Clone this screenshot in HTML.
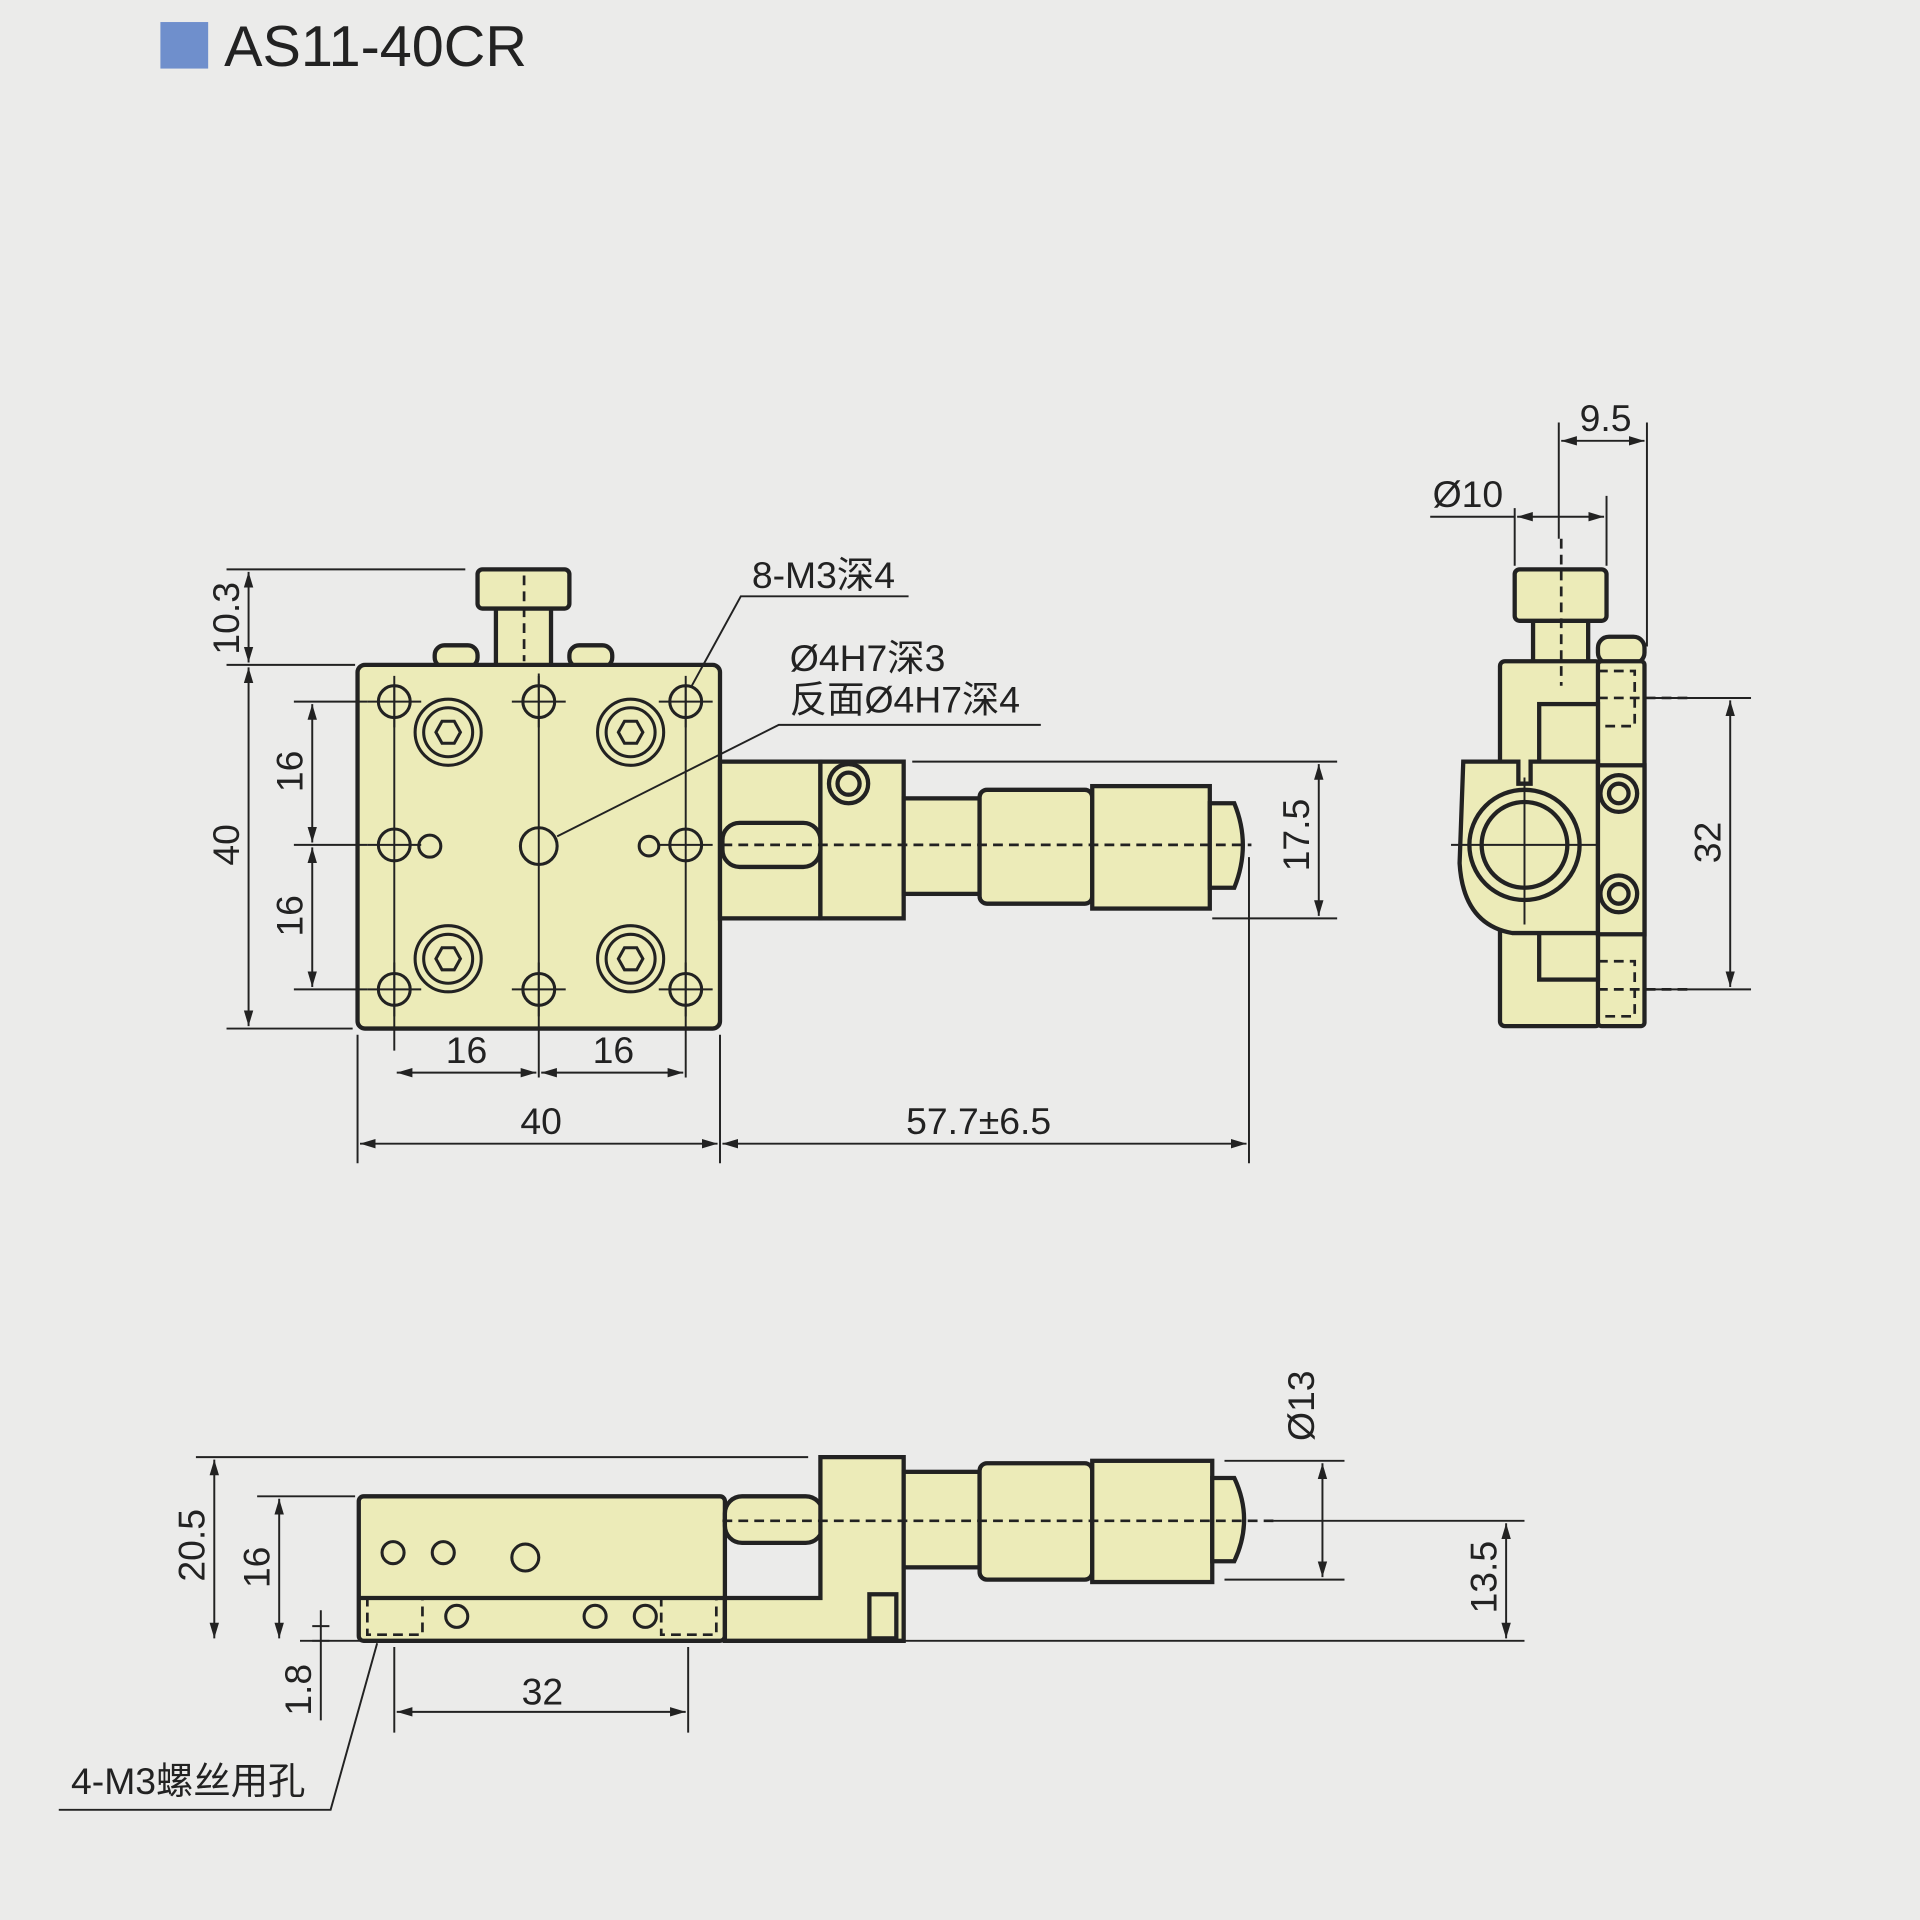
<!DOCTYPE html>
<html><head><meta charset="utf-8"><style>
html,body{margin:0;padding:0;background:#ebebea;}
svg{display:block;}
text{font-family:"Liberation Sans","Noto Sans CJK SC",sans-serif;fill:#222;}
</style></head><body>
<svg width="1920" height="1920" viewBox="0 0 1568 1568" xmlns="http://www.w3.org/2000/svg">
<rect width="1568" height="1568" fill="#ebebea"/>
<defs>
<marker id="a" viewBox="0 0 10 10" refX="10" refY="5" markerWidth="8" markerHeight="8" orient="auto-start-reverse"><path d="M0,2 L10,5 L0,8z" fill="#222"/></marker>
</defs>
<rect x="131" y="18" width="39" height="38" fill="#6f8fcc"/>
<text x="183" y="54" font-size="47">AS11-40CR</text>

<g fill="#ecebb8" stroke="#222" stroke-width="3.5">
<rect x="355" y="527" width="35" height="18" rx="8"/>
<rect x="465" y="527" width="35" height="18" rx="8"/>
<rect x="405" y="495" width="45" height="50"/>
<rect x="390" y="465" width="75" height="32" rx="4"/>
<rect x="292" y="543" width="296" height="297" rx="6"/>
<rect x="588" y="622" width="82" height="128"/>
<rect x="670" y="622" width="68" height="128"/>
<circle cx="693" cy="640" r="16"/><circle cx="693" cy="640" r="9"/>
<rect x="738" y="652" width="62" height="78"/>
<rect x="800" y="645" width="92" height="93" rx="6"/>
<rect x="892" y="642" width="96" height="100"/>
<path d="M988,656 H1008 Q1022,690 1008,725 H988Z"/>
<rect x="590" y="672" width="80" height="36" rx="14"/>
<g stroke-width="2.5">
<circle cx="322" cy="573" r="13"/><circle cx="440" cy="573" r="13"/><circle cx="560" cy="573" r="13"/>
<circle cx="322" cy="690" r="13"/><circle cx="560" cy="690" r="13"/>
<circle cx="322" cy="808" r="13"/><circle cx="440" cy="808" r="13"/><circle cx="560" cy="808" r="13"/>
<circle cx="366" cy="598" r="27"/><circle cx="366" cy="598" r="20"/><path d="M356,598 l5,-9 h10 l5,9 l-5,9 h-10z"/>
<circle cx="515" cy="598" r="27"/><circle cx="515" cy="598" r="20"/><path d="M505,598 l5,-9 h10 l5,9 l-5,9 h-10z"/>
<circle cx="366" cy="783" r="27"/><circle cx="366" cy="783" r="20"/><path d="M356,783 l5,-9 h10 l5,9 l-5,9 h-10z"/>
<circle cx="515" cy="783" r="27"/><circle cx="515" cy="783" r="20"/><path d="M505,783 l5,-9 h10 l5,9 l-5,9 h-10z"/>
<circle cx="351" cy="691" r="9"/><circle cx="440" cy="691" r="15"/><circle cx="530" cy="691" r="8"/>
</g>

<rect x="1305" y="520" width="38" height="22" rx="9"/>
<rect x="1252" y="505" width="45" height="37"/>
<rect x="1237" y="465" width="75" height="42" rx="4"/>
<rect x="1225" y="540" width="82" height="298" rx="4"/>
<rect x="1305" y="540" width="38" height="298" rx="3"/>
<rect x="1257" y="575" width="48" height="50"/>
<rect x="1257" y="760" width="48" height="40"/>
<path d="M1195,622 H1240 V640 H1250 V622 H1305 V762 H1235 Q1195,755 1192,705 Z"/>
<rect x="1305" y="625" width="38" height="138"/>
<circle cx="1245" cy="690" r="45"/><circle cx="1245" cy="690" r="35"/>
<circle cx="1322" cy="648" r="15"/><circle cx="1322" cy="648" r="8"/>
<circle cx="1322" cy="730" r="15"/><circle cx="1322" cy="730" r="8"/>

<rect x="293" y="1222" width="299" height="118" rx="4"/>
<rect x="592" y="1222" width="80" height="38" rx="14"/>
<path d="M670,1190 H738 V1340 H592 V1305 H670Z"/>
<rect x="710" y="1302" width="22" height="36"/>
<rect x="738" y="1202" width="62" height="78"/>
<rect x="800" y="1195" width="92" height="95" rx="6"/>
<rect x="892" y="1193" width="98" height="99"/>
<path d="M990,1207 H1008 Q1024,1241 1008,1275 H990Z"/>
<g stroke-width="2.5">
<circle cx="321" cy="1268" r="9"/><circle cx="362" cy="1268" r="9"/><circle cx="429" cy="1272" r="11"/>
<circle cx="373" cy="1320" r="9"/><circle cx="486" cy="1320" r="9"/><circle cx="527" cy="1320" r="9"/>
</g>
</g>
<line x1="293" y1="1305" x2="592" y2="1305" stroke="#222" stroke-width="3.5"/>

<g fill="none" stroke="#222" stroke-width="2.2" stroke-dasharray="8,5">
<line x1="590" y1="690" x2="1022" y2="690"/>
<line x1="428" y1="470" x2="428" y2="540"/>
<line x1="1275" y1="440" x2="1275" y2="560"/>
<line x1="1305" y1="570" x2="1380" y2="570"/><line x1="1305" y1="808" x2="1380" y2="808"/>
<rect x="1305" y="548" width="30" height="45"/><rect x="1305" y="785" width="30" height="45"/>
<line x1="590" y1="1242" x2="1045" y2="1242"/>
<rect x="300" y="1305" width="45" height="30"/><rect x="540" y="1305" width="45" height="30"/>
</g>

<g stroke="#222" stroke-width="1.6" fill="none">
<path d="M300,573h44M322,552v42M418,573h44M440,552v42M538,573h44M560,552v42M300,690h44M538,690h44M300,808h44M322,786v44M418,808h44M440,786v44M538,808h44M560,786v44"/>
<path d="M322,560V858M440,550V880M560,560V880M1185,690H1305M1245,635V755"/>
<path d="M185,465H380M185,543H290M240,573H300M240,808H300M240,690H300M185,840H288"/>
<path d="M292,845V950M588,845V950M1020,700V950M745,622H1092M990,750H1092"/>
<path d="M1273,345V440M1345,345V528M1237,415V462M1312,405V462M1345,570H1430M1345,808H1430"/>
<path d="M160,1190H660M210,1222H290M245,1340H1245M1000,1193H1098M1000,1290H1098M1040,1242H1245M322,1345V1415M562,1345V1415"/>
<g marker-start="url(#a)" marker-end="url(#a)">
<line x1="203" y1="467" x2="203" y2="541"/>
<line x1="203" y1="545" x2="203" y2="838"/>
<line x1="255" y1="575" x2="255" y2="688"/>
<line x1="255" y1="692" x2="255" y2="806"/>
<line x1="324" y1="876" x2="438" y2="876"/>
<line x1="442" y1="876" x2="558" y2="876"/>
<line x1="294" y1="934" x2="586" y2="934"/>
<line x1="590" y1="934" x2="1018" y2="934"/>
<line x1="1077" y1="624" x2="1077" y2="748"/>
<line x1="1275" y1="360" x2="1343" y2="360"/>
<line x1="1239" y1="422" x2="1310" y2="422"/>
<line x1="1413" y1="572" x2="1413" y2="806"/>
<line x1="175" y1="1192" x2="175" y2="1338"/>
<line x1="228" y1="1224" x2="228" y2="1338"/>
<line x1="324" y1="1398" x2="560" y2="1398"/>
<line x1="1080" y1="1195" x2="1080" y2="1288"/>
<line x1="1230" y1="1244" x2="1230" y2="1338"/>
</g>
<path d="M262,1315V1405M255,1328h14M255,1340h14"/>
<path d="M742,487H605L565,560M850,592H636L455,683M48,1478H270L308,1342"/>
<path d="M1168,422H1237"/>
</g>

<g font-size="30.5">
<text x="614" y="480">8-M3深4</text>
<text x="645" y="548">Ø4H7深3</text>
<text x="645" y="582">反面Ø4H7深4</text>
<text x="364" y="868">16</text><text x="484" y="868">16</text>
<text x="425" y="926">40</text>
<text x="740" y="926">57.7±6.5</text>
<text x="1290" y="352">9.5</text>
<text x="1170" y="414">Ø10</text>
<text x="426" y="1392">32</text>
<text x="58" y="1465">4-M3螺丝用孔</text>
<text transform="translate(195,505) rotate(-90)" text-anchor="middle">10.3</text>
<text transform="translate(195,690) rotate(-90)" text-anchor="middle">40</text>
<text transform="translate(247,630) rotate(-90)" text-anchor="middle">16</text>
<text transform="translate(247,748) rotate(-90)" text-anchor="middle">16</text>
<text transform="translate(1069,682) rotate(-90)" text-anchor="middle">17.5</text>
<text transform="translate(1405,688) rotate(-90)" text-anchor="middle">32</text>
<text transform="translate(167,1262) rotate(-90)" text-anchor="middle">20.5</text>
<text transform="translate(220,1280) rotate(-90)" text-anchor="middle">16</text>
<text transform="translate(254,1380) rotate(-90)" text-anchor="middle">1.8</text>
<text transform="translate(1073,1148) rotate(-90)" text-anchor="middle">Ø13</text>
<text transform="translate(1222,1288) rotate(-90)" text-anchor="middle">13.5</text>
</g>
</svg>
</body></html>
